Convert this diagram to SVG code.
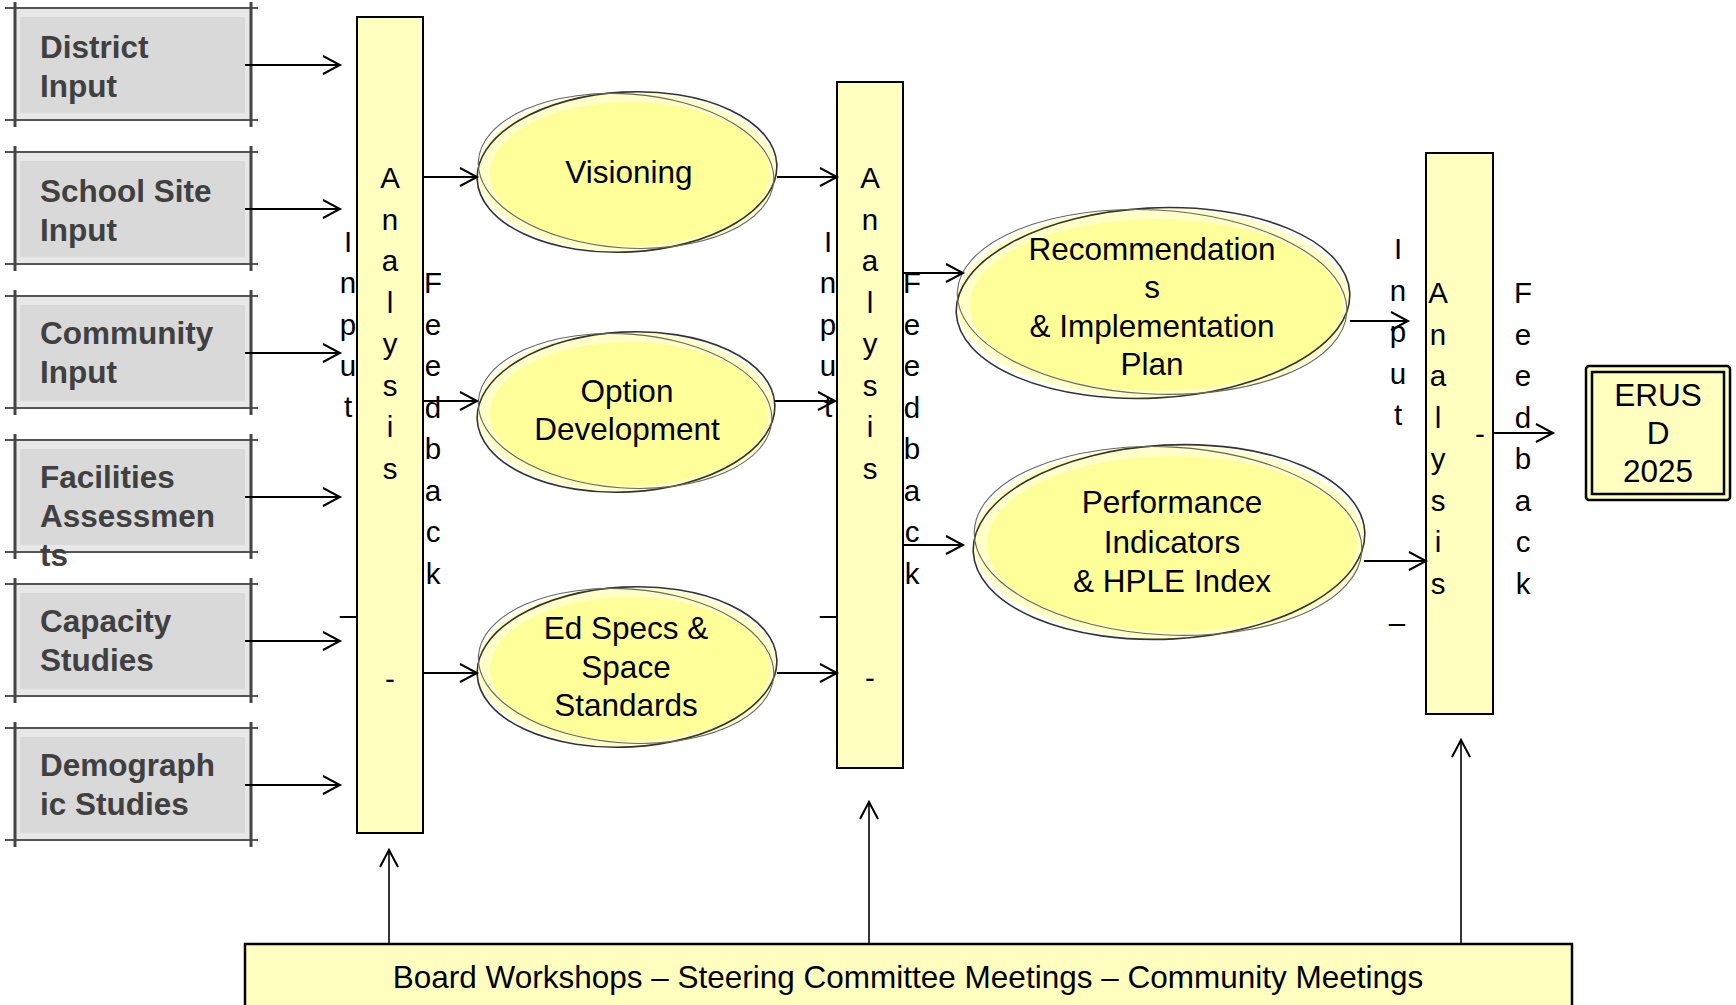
<svg xmlns="http://www.w3.org/2000/svg" width="1736" height="1005" viewBox="0 0 1736 1005">
<defs>
<marker id="arr" markerUnits="userSpaceOnUse" markerWidth="22" markerHeight="22" viewBox="0 0 22 22" refX="18" refY="10" orient="auto">
<path d="M1,1 L18,10 L1,19" fill="none" stroke="#000" stroke-width="2"/>
</marker>
</defs>
<style>
.gb-band{fill:#E8E8E8}
.gb-fill{fill:#D9D9D9}
.gb-h{stroke:#555;stroke-width:2}
.gb-v{stroke:#444;stroke-width:3}
.gb-t{font-family:"Liberation Sans",Arial,sans-serif;font-weight:bold;font-size:31.5px;fill:#404040}
.bar{fill:#FFFFC0;stroke:#000;stroke-width:2}
.vt{font-family:"Liberation Sans",Arial,sans-serif;font-size:29.5px;fill:#000;text-anchor:middle}
.el-band{fill:#FFFFC8}
.el-fill{fill:#FFFF99}
.el-s1{fill:none;stroke:#333;stroke-width:1.6}
.el-s2{fill:none;stroke:#666;stroke-width:1.1}
.et{font-family:"Liberation Sans",Arial,sans-serif;font-size:31.5px;fill:#000;text-anchor:middle}
.con{stroke:#000;stroke-width:2;fill:none;marker-end:url(#arr)}
.con-v{stroke:#000;stroke-width:1.6;fill:none;marker-end:url(#arr)}
</style>
<rect width="1736" height="1005" fill="#fff"/>

<g id="district-input">
<rect class="gb-band" x="15" y="8" width="236" height="112"/>
<rect class="gb-fill" x="20" y="17" width="225" height="96"/>
<line class="gb-h" x1="5" y1="8" x2="258" y2="8"/><line class="gb-h" x1="5" y1="120" x2="258" y2="120"/>
<line class="gb-v" x1="15" y1="2" x2="15" y2="127"/><line class="gb-v" x1="251" y1="2" x2="251" y2="127"/>
<text class="gb-t" x="40" y="58">District</text><text class="gb-t" x="40" y="97">Input</text>
</g>
<g id="school-site-input">
<rect class="gb-band" x="15" y="152" width="236" height="112"/>
<rect class="gb-fill" x="20" y="161" width="225" height="96"/>
<line class="gb-h" x1="5" y1="152" x2="258" y2="152"/><line class="gb-h" x1="5" y1="264" x2="258" y2="264"/>
<line class="gb-v" x1="15" y1="146" x2="15" y2="271"/><line class="gb-v" x1="251" y1="146" x2="251" y2="271"/>
<text class="gb-t" x="40" y="202">School Site</text><text class="gb-t" x="40" y="241">Input</text>
</g>
<g id="community-input">
<rect class="gb-band" x="15" y="296" width="236" height="112"/>
<rect class="gb-fill" x="20" y="305" width="225" height="96"/>
<line class="gb-h" x1="5" y1="296" x2="258" y2="296"/><line class="gb-h" x1="5" y1="408" x2="258" y2="408"/>
<line class="gb-v" x1="15" y1="290" x2="15" y2="415"/><line class="gb-v" x1="251" y1="290" x2="251" y2="415"/>
<text class="gb-t" x="40" y="344">Community</text><text class="gb-t" x="40" y="383">Input</text>
</g>
<g id="facilities-assessments">
<rect class="gb-band" x="15" y="440" width="236" height="112"/>
<rect class="gb-fill" x="20" y="449" width="225" height="96"/>
<line class="gb-h" x1="5" y1="440" x2="258" y2="440"/><line class="gb-h" x1="5" y1="552" x2="258" y2="552"/>
<line class="gb-v" x1="15" y1="434" x2="15" y2="559"/><line class="gb-v" x1="251" y1="434" x2="251" y2="559"/>
<text class="gb-t" x="40" y="488">Facilities</text><text class="gb-t" x="40" y="527">Assessmen</text><text class="gb-t" x="40" y="566">ts</text>
</g>
<g id="capacity-studies">
<rect class="gb-band" x="15" y="584" width="236" height="112"/>
<rect class="gb-fill" x="20" y="593" width="225" height="96"/>
<line class="gb-h" x1="5" y1="584" x2="258" y2="584"/><line class="gb-h" x1="5" y1="696" x2="258" y2="696"/>
<line class="gb-v" x1="15" y1="578" x2="15" y2="703"/><line class="gb-v" x1="251" y1="578" x2="251" y2="703"/>
<text class="gb-t" x="40" y="632">Capacity</text><text class="gb-t" x="40" y="671">Studies</text>
</g>
<g id="demographic-studies">
<rect class="gb-band" x="15" y="728" width="236" height="112"/>
<rect class="gb-fill" x="20" y="737" width="225" height="96"/>
<line class="gb-h" x1="5" y1="728" x2="258" y2="728"/><line class="gb-h" x1="5" y1="840" x2="258" y2="840"/>
<line class="gb-v" x1="15" y1="722" x2="15" y2="847"/><line class="gb-v" x1="251" y1="722" x2="251" y2="847"/>
<text class="gb-t" x="40" y="776">Demograph</text><text class="gb-t" x="40" y="815">ic Studies</text>
</g>

<g id="analysis-1">
<rect class="bar" x="357" y="17" width="66" height="816"/>
<text class="vt" x="390" y="188"><tspan x="390">A</tspan><tspan x="390" dy="41.5">n</tspan><tspan x="390" dy="41.5">a</tspan><tspan x="390" dy="41.5">l</tspan><tspan x="390" dy="41.5">y</tspan><tspan x="390" dy="41.5">s</tspan><tspan x="390" dy="41.5">i</tspan><tspan x="390" dy="41.5">s</tspan></text>
<text class="vt" x="390" y="689">-</text>
<text class="vt" x="348" y="252"><tspan x="348">I</tspan><tspan x="348" dy="41.3">n</tspan><tspan x="348" dy="41.3">p</tspan><tspan x="348" dy="41.3">u</tspan><tspan x="348" dy="41.3">t</tspan></text>
<text class="vt" x="348" y="625">–</text>
<text class="vt" x="433" y="293"><tspan x="433">F</tspan><tspan x="433" dy="41.5">e</tspan><tspan x="433" dy="41.5">e</tspan><tspan x="433" dy="41.5">d</tspan><tspan x="433" dy="41.5">b</tspan><tspan x="433" dy="41.5">a</tspan><tspan x="433" dy="41.5">c</tspan><tspan x="433" dy="41.5">k</tspan></text>
</g>

<g id="analysis-2">
<rect class="bar" x="837" y="82" width="66" height="686"/>
<text class="vt" x="870" y="188"><tspan x="870">A</tspan><tspan x="870" dy="41.5">n</tspan><tspan x="870" dy="41.5">a</tspan><tspan x="870" dy="41.5">l</tspan><tspan x="870" dy="41.5">y</tspan><tspan x="870" dy="41.5">s</tspan><tspan x="870" dy="41.5">i</tspan><tspan x="870" dy="41.5">s</tspan></text>
<text class="vt" x="870" y="688">-</text>
<text class="vt" x="828" y="252"><tspan x="828">I</tspan><tspan x="828" dy="41.3">n</tspan><tspan x="828" dy="41.3">p</tspan><tspan x="828" dy="41.3">u</tspan><tspan x="828" dy="41.3">t</tspan></text>
<text class="vt" x="828" y="625">–</text>
<text class="vt" x="912" y="293"><tspan x="912">F</tspan><tspan x="912" dy="41.5">e</tspan><tspan x="912" dy="41.5">e</tspan><tspan x="912" dy="41.5">d</tspan><tspan x="912" dy="41.5">b</tspan><tspan x="912" dy="41.5">a</tspan><tspan x="912" dy="41.5">c</tspan><tspan x="912" dy="41.5">k</tspan></text>
</g>

<g id="analysis-3">
<rect class="bar" x="1426" y="153" width="67" height="561"/>
<text class="vt" x="1438" y="303"><tspan x="1438">A</tspan><tspan x="1438" dy="41.5">n</tspan><tspan x="1438" dy="41.5">a</tspan><tspan x="1438" dy="41.5">l</tspan><tspan x="1438" dy="41.5">y</tspan><tspan x="1438" dy="41.5">s</tspan><tspan x="1438" dy="41.5">i</tspan><tspan x="1438" dy="41.5">s</tspan></text>
<text class="vt" x="1480" y="444">-</text>
<text class="vt" x="1398" y="259"><tspan x="1398">I</tspan><tspan x="1398" dy="41.5">n</tspan><tspan x="1398" dy="41.5">p</tspan><tspan x="1398" dy="41.5">u</tspan><tspan x="1398" dy="41.5">t</tspan></text>
<text class="vt" x="1397" y="633">–</text>
<text class="vt" x="1523" y="303"><tspan x="1523">F</tspan><tspan x="1523" dy="41.5">e</tspan><tspan x="1523" dy="41.5">e</tspan><tspan x="1523" dy="41.5">d</tspan><tspan x="1523" dy="41.5">b</tspan><tspan x="1523" dy="41.5">a</tspan><tspan x="1523" dy="41.5">c</tspan><tspan x="1523" dy="41.5">k</tspan></text>
</g>

<g id="visioning">
<ellipse class="el-band" cx="627" cy="172" rx="150" ry="80"/>
<ellipse class="el-fill" cx="630" cy="174" rx="140" ry="72"/>
<ellipse class="el-s1" cx="627" cy="172" rx="150" ry="80" transform="rotate(-3 627 172)"/>
<ellipse class="el-s2" cx="626" cy="171" rx="148" ry="77" transform="rotate(4 627 172)"/>
<text class="et" x="629" y="183">Visioning</text>
</g>
<g id="option-development">
<ellipse class="el-band" cx="626" cy="412" rx="149" ry="80"/>
<ellipse class="el-fill" cx="629" cy="414" rx="139" ry="72"/>
<ellipse class="el-s1" cx="626" cy="412" rx="149" ry="80" transform="rotate(-3 626 412)"/>
<ellipse class="el-s2" cx="625" cy="411" rx="147" ry="77" transform="rotate(4 626 412)"/>
<text class="et" x="627" y="402">Option</text><text class="et" x="627" y="440">Development</text>
</g>
<g id="ed-specs">
<ellipse class="el-band" cx="627" cy="667" rx="150" ry="80"/>
<ellipse class="el-fill" cx="630" cy="669" rx="140" ry="72"/>
<ellipse class="el-s1" cx="627" cy="667" rx="150" ry="80" transform="rotate(-3 627 667)"/>
<ellipse class="el-s2" cx="626" cy="666" rx="148" ry="77" transform="rotate(4 627 667)"/>
<text class="et" x="626" y="639">Ed Specs &amp;</text><text class="et" x="626" y="678">Space</text><text class="et" x="626" y="716">Standards</text>
</g>
<g id="recommendations">
<ellipse class="el-band" cx="1153" cy="303" rx="197" ry="95"/>
<ellipse class="el-fill" cx="1156" cy="305" rx="186" ry="86"/>
<ellipse class="el-s1" cx="1153" cy="303" rx="197" ry="95" transform="rotate(-3 1153 303)"/>
<ellipse class="el-s2" cx="1152" cy="302" rx="195" ry="92" transform="rotate(3 1153 303)"/>
<text class="et" x="1152" y="260">Recommendation</text><text class="et" x="1152" y="298">s</text><text class="et" x="1152" y="337">&amp; Implementation</text><text class="et" x="1152" y="375">Plan</text>
</g>
<g id="performance-indicators">
<ellipse class="el-band" cx="1169" cy="542" rx="196" ry="97"/>
<ellipse class="el-fill" cx="1172" cy="544" rx="185" ry="88"/>
<ellipse class="el-s1" cx="1169" cy="542" rx="196" ry="97" transform="rotate(-3 1169 542)"/>
<ellipse class="el-s2" cx="1168" cy="541" rx="194" ry="94" transform="rotate(3 1169 542)"/>
<text class="et" x="1172" y="513">Performance</text><text class="et" x="1172" y="553">Indicators</text><text class="et" x="1172" y="592">&amp; HPLE Index</text>
</g>

<g id="erusd-2025">
<rect x="1586" y="366" width="144" height="134" rx="3" fill="#FFFFC0" stroke="#000" stroke-width="2.5"/>
<rect x="1592" y="372" width="132" height="122" fill="none" stroke="#000" stroke-width="2.5"/>
<text class="et" x="1658" y="406">ERUS</text><text class="et" x="1658" y="444">D</text><text class="et" x="1658" y="482">2025</text>
</g>

<g id="meetings">
<rect x="245" y="944" width="1327" height="75" fill="#FFFFC0" stroke="#000" stroke-width="2.5"/>
<text class="et" x="908" y="988" font-size="32.3">Board Workshops – Steering Committee Meetings – Community Meetings</text>
</g>

<g id="connectors">
<line class="con" x1="245" y1="65" x2="340" y2="65"/>
<line class="con" x1="245" y1="209" x2="340" y2="209"/>
<line class="con" x1="245" y1="353" x2="340" y2="353"/>
<line class="con" x1="245" y1="497" x2="340" y2="497"/>
<line class="con" x1="245" y1="641" x2="340" y2="641"/>
<line class="con" x1="245" y1="785" x2="340" y2="785"/>
<line class="con" x1="423" y1="177" x2="477" y2="177"/>
<line class="con" x1="423" y1="401" x2="477" y2="401"/>
<line class="con" x1="423" y1="673" x2="477" y2="673"/>
<line class="con" x1="777" y1="177" x2="837" y2="177"/>
<line class="con" x1="775" y1="401" x2="835" y2="401"/>
<line class="con" x1="777" y1="673" x2="837" y2="673"/>
<line class="con" x1="903" y1="273" x2="963" y2="273"/>
<line class="con" x1="903" y1="545" x2="963" y2="545"/>
<line class="con" x1="1350" y1="321" x2="1408" y2="321"/>
<line class="con" x1="1364" y1="561" x2="1426" y2="561"/>
<line class="con" x1="1493" y1="433" x2="1553" y2="433"/>
<line class="con-v" x1="389" y1="944" x2="389" y2="850"/>
<line class="con-v" x1="869" y1="944" x2="869" y2="802"/>
<line class="con-v" x1="1461" y1="944" x2="1461" y2="740"/>
</g>
</svg>
